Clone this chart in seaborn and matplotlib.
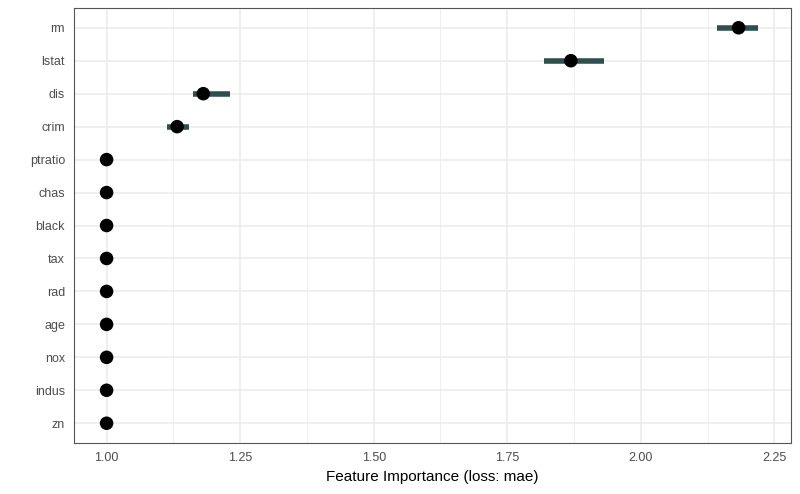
import matplotlib
matplotlib.use("Agg")
import matplotlib.pyplot as plt
import seaborn as sns
import pandas as pd
import numpy as np

features = ["rm", "lstat", "dis", "crim", "ptratio", "chas", "black", "tax", "rad", "age", "nox", "indus", "zn"]
importance = [2.183, 1.869, 1.181, 1.132, 1.0, 1.0, 1.0, 1.0, 1.0, 1.0, 1.0, 1.0, 1.0]
lower = [2.142, 1.819, 1.162, 1.114, 1.0, 1.0, 1.0, 1.0, 1.0, 1.0, 1.0, 1.0, 1.0]
upper = [2.220, 1.931, 1.231, 1.155, 1.0, 1.0, 1.0, 1.0, 1.0, 1.0, 1.0, 1.0, 1.0]
xticks = [1.00, 1.25, 1.50, 1.75, 2.00, 2.25]

df = pd.DataFrame({"feature": features, "importance": importance, "lower": lower, "upper": upper})

sns.set_theme(style="white")
plt.rcParams['font.family'] = ['Liberation Sans', 'DejaVu Sans']

fig = plt.figure(figsize=(8, 4.94), dpi=100)
ax = fig.add_axes([0.0925, 0.1032, 0.8962, 0.8806])

ypos = np.arange(len(features))
ax.hlines(ypos, df["lower"], df["upper"], color="#2F4F4F", linewidth=4.0, zorder=3)
sns.scatterplot(x=df["importance"], y=ypos, color="black", s=95, edgecolor="none", ax=ax, zorder=4, legend=False)

ax.set_ylim(len(features) - 1 + 0.6, -0.6)
ax.set_yticks(ypos)
ax.set_yticklabels(features)
xmin, xmax = min(lower), max(upper)
pad = (xmax - xmin) * 0.05
ax.set_xlim(xmin - pad, xmax + pad)
ax.set_xticks(xticks)
ax.set_xticklabels([f"{t:.2f}" for t in xticks])
minor = [(a + b) / 2 for a, b in zip(xticks[:-1], xticks[1:])]
ax.set_xticks(minor, minor=True)

ax.grid(True, which="major", color="#EBEBEB", linewidth=1.1, zorder=0)
ax.grid(True, which="minor", axis="x", color="#EBEBEB", linewidth=0.55, zorder=0)
ax.set_axisbelow(True)
for s in ax.spines.values():
    s.set_color("#555555")
    s.set_linewidth(0.8)
ax.tick_params(axis="both", which="major", length=3.5, width=0.8, color="#333333", labelcolor="#4D4D4D", labelsize=9, pad=3)
ax.tick_params(axis="x", which="minor", length=0)
ax.set_xlabel("Feature Importance (loss: mae)", fontsize=11, color="black", labelpad=4)
ax.set_ylabel("")

fig.savefig("out.png", dpi=100)
